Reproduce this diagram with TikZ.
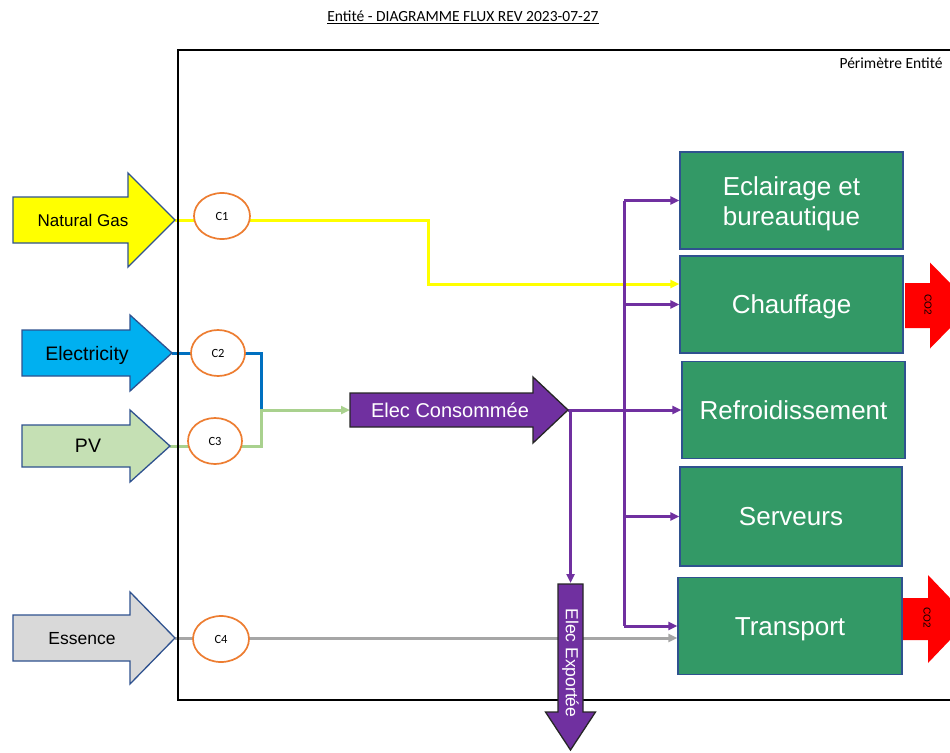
\documentclass[tikz,border=0pt]{standalone}
\usepackage{fontspec}
\setmainfont{Liberation Sans}
\newfontfamily\calibrifont{Carlito}
\usetikzlibrary{shapes.geometric,arrows.meta,backgrounds}

\definecolor{gasyellow}{HTML}{FFFF00}
\definecolor{elecblue}{HTML}{00B0F0}
\definecolor{pvgreen}{HTML}{C5E0B4}
\definecolor{essgray}{HTML}{D9D9D9}
\definecolor{outlineblue}{HTML}{2F528F}
\definecolor{flowpurple}{HTML}{7030A0}
\definecolor{usegreen}{RGB}{51,153,102}
\definecolor{meterorange}{HTML}{ED7D31}
\definecolor{linkblue}{HTML}{0070C0}
\definecolor{linkgreen}{HTML}{A9D18E}
\definecolor{linkgray}{HTML}{A6A6A6}
\definecolor{co2red}{HTML}{FF0000}

% block arrow pointing right: style, x left, x head start, x tip, y centre, half body, half head
\newcommand\rightblock[7]{%
  \path[#1] (#2,#5-#6) -- (#3,#5-#6) -- (#3,#5-#7) -- (#4,#5)
    -- (#3,#5+#7) -- (#3,#5+#6) -- (#2,#5+#6) -- cycle;}
% block arrow pointing down: style, x centre, y top, y head start, y tip, half body, half head
\newcommand\downblock[7]{%
  \path[#1] (#2-#6,#3) -- (#2+#6,#3) -- (#2+#6,#4) -- (#2+#7,#4) -- (#2,#5)
    -- (#2-#7,#4) -- (#2-#6,#4) -- cycle;}

\begin{document}
\begin{tikzpicture}[x=1pt,y=-1pt,
  inflow/.style={draw=outlineblue,line width=1.3pt,line join=miter},
  inlabel/.style={inner sep=0pt,font=\fontsize{18}{20}\selectfont},
  meter/.style={ellipse,draw=meterorange,line width=1.7pt,fill=white,
    minimum width=56,minimum height=46,inner sep=0pt,
    font=\calibrifont\fontsize{12.5}{13}\selectfont},
  usebox/.style={rectangle,draw=outlineblue,line width=1.3pt,fill=usegreen,
    text=white,minimum width=223,minimum height=97,align=center,
    font=\fontsize{26}{30}\selectfont},
  oneline/.style={text height=18.6pt,text depth=0pt},
  link/.style={line width=3pt},
  tip/.style={-{Triangle[length=9pt,width=8pt]}},
  pline/.style={link,draw=flowpurple},
  co2label/.style={rotate=-90,inner sep=0pt,font=\fontsize{10}{11}\selectfont}]

\useasboundingbox (0,0) rectangle (950,752);
\clip (0,0) rectangle (950,752);

% title and perimeter
\node[font=\calibrifont\fontsize{15.5}{18}\selectfont] (title) at (463,17)
  {\underline{Entité - DIAGRAMME FLUX REV 2023-07-27}};
\draw[line width=1.8pt] (960,50) -- (178,50) -- (178,700) -- (960,700);
\node[anchor=east,font=\calibrifont\fontsize{15.5}{18}\selectfont] (perim) at (946,63)
  {Périmètre Entité};

% incoming energy arrows
\rightblock{inflow,fill=gasyellow}{13}{128}{175}{220}{23}{47}
\rightblock{inflow,fill=elecblue}{22}{130}{172}{353}{23}{38}
\rightblock{inflow,fill=pvgreen}{22}{130}{170}{446}{21}{36}
\rightblock{inflow,fill=essgray}{13}{130}{175}{638}{23}{46}
\node[inlabel,font=\fontsize{17}{20}\selectfont] (ng) at (83,220) {Natural Gas};
\node[inlabel,font=\fontsize{19.5}{22}\selectfont,text height=14pt,text depth=0pt] (elec) at (87,353) {Electricity};
\node[inlabel,font=\fontsize{19.5}{22}\selectfont] (pv) at (88,446) {PV};
\node[inlabel,font=\fontsize{17.5}{20}\selectfont] (ess) at (82,639) {Essence};
\coordinate (ngtip) at (175,220);
\coordinate (eltip) at (172,353);
\coordinate (pvtip) at (170,446);
\coordinate (estip) at (175,638);

% meters
\node[meter] (c1) at (222,216) {C1};
\node[meter,minimum width=54] (c2) at (218,353) {C2};
\node[meter,minimum width=54] (c3) at (215,441) {C3};
\node[meter] (c4) at (221,639) {C4};

% consumed electricity arrow
\rightblock{draw=black!85,line width=1.3pt,fill=flowpurple}{350}{533}{568}{410}{17}{33}
\node[inlabel,text=white,font=\fontsize{20}{22}\selectfont] (cons) at (450,410) {Elec Consommée};
\coordinate (constail) at (350,410);
\coordinate (constip) at (568,410);

% exported electricity arrow
\downblock{draw=black!85,line width=1.3pt,fill=flowpurple}{570.5}{584}{712}{750}{12.5}{25}
\node[co2label,text=white,font=\fontsize{17.5}{20}\selectfont] (exp) at (570.5,663) {Elec Exportée};
\coordinate (exptop) at (570.5,583);

% uses
\node[usebox] (ecl) at (791.5,200.5)
  {\raisebox{-3.5pt}[\height][\depth]{\begin{tabular}{@{}c@{}}Eclairage et\\bureautique\end{tabular}}};
\node[usebox,oneline] (chauf) at (791.5,304.5) {Chauffage};
\node[usebox,oneline] (refr) at (793.5,410) {Refroidissement};
\node[usebox,oneline,minimum width=222,minimum height=99] (serv) at (791,516.5) {Serveurs};
\node[usebox,oneline,minimum width=224] (trans) at (790,626) {Transport};

% emissions
\rightblock{fill=co2red}{905}{930}{972}{305.5}{22.5}{43}
\rightblock{fill=co2red}{903}{928}{970}{619}{21}{44}
\node[co2label] (co2a) at (928,305) {CO2};
\node[co2label] (co2b) at (927,618) {CO2};

% flows, drawn beneath the meters and arrows
\begin{pgfonlayer}{background}
\fill[white] (0,0) rectangle (950,752);
% gas path
\draw[link,draw=gasyellow,tip] (ngtip) -- (ngtip -| c1.east) -| (428,284)
  -- (chauf.west |- 428,284);
% electricity and PV merge into consumption
\coordinate (merge) at (261,410);
\draw[link,draw=linkblue] (eltip) -| (merge);
\draw[link,draw=linkgreen,tip] (pvtip) -| (merge) -- (constail);
% petrol path
\draw[link,draw=linkgray,tip] (estip) -- (trans.west |- estip);
% electricity distribution
\coordinate (bus) at (624,410);
\coordinate (drop) at (570.5,410);
\draw[pline] (constip) -- (bus);
\draw[pline] (bus |- ecl.west) -- (bus |- trans.west);
\draw[pline,tip] (drop) -- (exptop);
\draw[pline,tip] (bus |- ecl.west) -- (ecl.west);
\draw[pline,tip] (bus |- chauf.west) -- (chauf.west);
\draw[pline,tip] (bus |- refr.west) -- (refr.west);
\draw[pline,tip] (bus |- serv.west) -- (serv.west);
\draw[pline,tip] (bus |- trans.west) -- (trans.west);
\end{pgfonlayer}
\end{tikzpicture}
\end{document}
